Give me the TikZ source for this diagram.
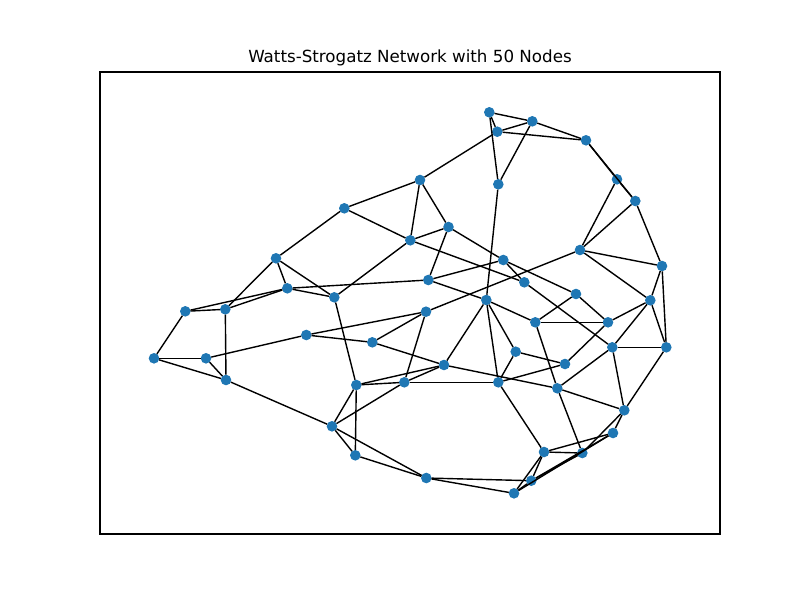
\documentclass[tikz,border=0pt]{standalone}
\usepackage{fontspec}
\setmainfont{DejaVu Sans}
\definecolor{nodeblue}{HTML}{1F77B4}
\begin{document}
\begin{tikzpicture}[x=1pt,y=-1pt,
  nd/.style={circle,fill=nodeblue,draw=none,minimum size=10.6pt,inner sep=0pt,outer sep=0pt},
  ed/.style={draw=black,line width=1.4pt},
  frame/.style={draw=black,line width=1.1pt}]
\useasboundingbox (0,0) rectangle (800,600);
\node[font=\fontsize{16.7}{20}\selectfont] (title) at (410,58) {Watts-Strogatz Network with 50 Nodes};
\draw[frame] (100,72) rectangle (720,534);
\foreach \n/\x/\y in {
 A/489.3/112.3, B/532.3/121.3, C/497.3/131.7, D/586/140.3, E/617/179.3,
 F/635.3/201, G/498.3/184.3, H/420/180, I/344.3/208.3, J/448.5/227,
 K/410.3/240.3, L/580/250, M/662/266, N/276/258.3, O/503.3/260,
 P/428.3/280, Q/524.3/282.3, R/287.3/288.3, S/334.3/297.3, T/576/294,
 U/486.3/300, V/650.3/300.3, W/185.3/311.3, X/225.3/309.3, Y/426/311.7,
 Z/535.3/322.3, AA/608/322.3, AB/306.3/335, AC/372.3/342.3, AD/612.3/347.3,
 AE/666.3/347.3, AF/515.7/351.7, AG/154/358.3, AH/206/358.3, AI/565/364,
 AJ/444/365, AK/226/380, AL/356.3/385, AM/404.3/382.3, AN/498.3/382.3,
 AO/557.3/388.3, AP/624.3/410.3, AQ/332/426.3, AR/613/433, AS/544/452,
 AT/582.3/453, AU/355.3/455.3, AV/426.3/478, AW/531.3/480.7, AX/514/493.3}
 {\node[nd] (\n) at (\x,\y) {};}
\begin{scope}[on background layer/.try]
\end{scope}
\foreach \a/\b in {
 A/B, A/C, A/G, B/C, B/D, C/D, B/G, C/H, D/E, D/F,
 E/F, E/L, F/L, F/M, L/M, L/V, L/Y, H/I, H/K, H/J,
 J/K, I/K, I/N, J/P, J/O, K/S, K/Q, G/U, O/Q, O/T,
 O/P, N/R, N/X, N/S, R/S, R/P, R/W, R/X, W/X, W/AG,
 X/AK, AG/AH, AG/AK, AH/AK, AH/AB, AB/Y, AB/AC, AC/Y, AC/AJ, Y/AM,
 S/AL, AL/AM, AL/AJ, AM/AJ, AM/AN, AL/AQ, AK/AQ, AM/AQ, AL/AU, AQ/AU,
 AQ/AV, AU/AV, AV/AW, AV/AX, AW/AX, AS/AW, AS/AX, AS/AT, AS/AR, AW/AR,
 AT/AP, AW/AT, AX/AR, AO/AT, AN/AS, AN/U, AN/AF, AN/AI, U/AJ, U/AF,
 U/Z, P/U, AF/AI, AI/AA, Z/AO, Z/AA, Z/T, T/AA, Q/AD, AA/V,
 AD/V, AD/AE, AD/AP, AO/AD, AO/AP, AJ/AO, V/M, V/AE, M/AE, AE/AP,
 AR/AP}
 {\draw[ed] (\a) -- (\b);}
\end{tikzpicture}
\end{document}
